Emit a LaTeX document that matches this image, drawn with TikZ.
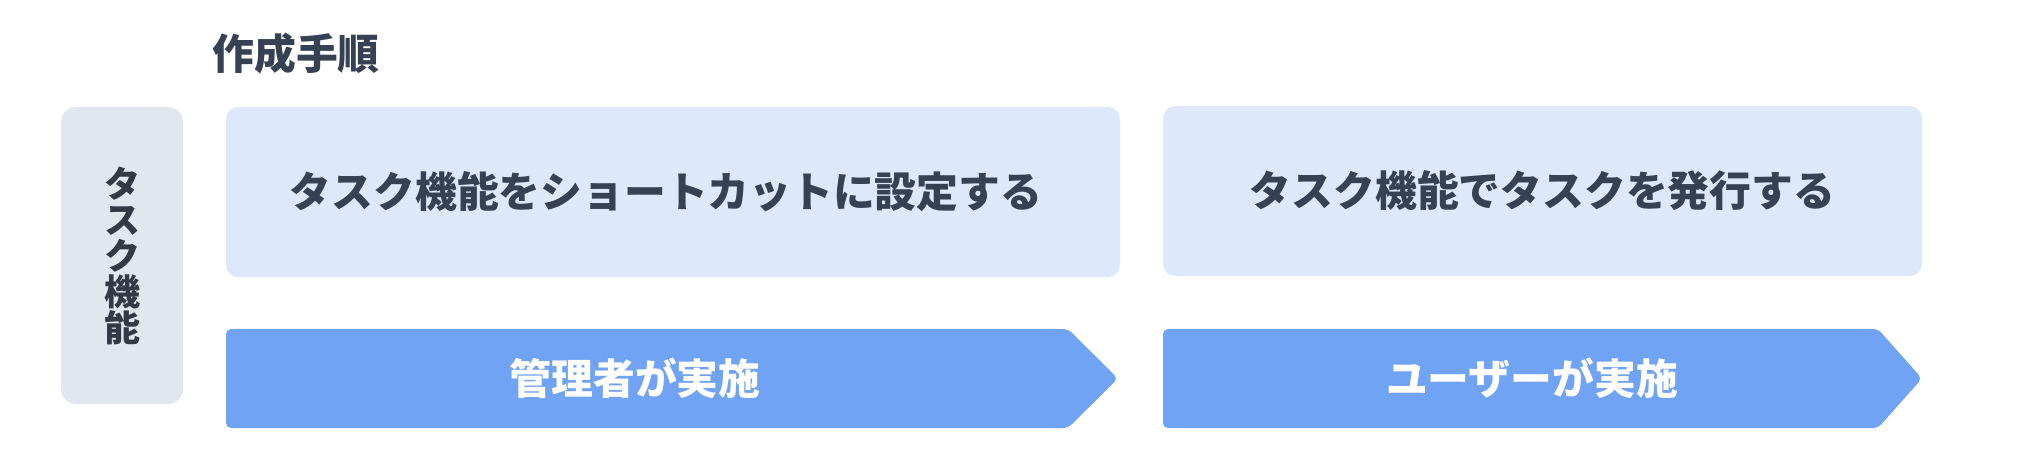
\documentclass[tikz,border=0pt]{standalone}
\usepackage{fontspec}
\setmainfont{Noto Sans CJK JP}
\usetikzlibrary{positioning}
\definecolor{flowtext}{HTML}{364153}
\definecolor{flowlabel}{HTML}{333A45}
\definecolor{flowgray}{HTML}{E2E7EF}
\definecolor{flowlight}{HTML}{DDE8FA}
\definecolor{flowblue}{HTML}{71A3F4}

\begin{document}
\begin{tikzpicture}[
  x=0.5pt, y=-0.5pt,
  font=\bfseries\fontsize{20.9pt}{24pt}\selectfont,
  lane/.style={fill=flowgray, rounded corners=7.5pt,
    minimum width=61pt, minimum height=148.5pt, inner sep=0pt,
    align=center, text=flowlabel,
    font=\bfseries\fontsize{18pt}{18pt}\selectfont},
  task/.style={fill=flowlight, rounded corners=6pt,
    minimum height=85pt, inner sep=0pt, text=flowtext},
  phase/.style={fill=flowblue, rounded corners=2.5pt},
  actor/.style={text=white, inner sep=0pt},
  heading/.style={text=flowtext, inner sep=0pt}
]
\useasboundingbox (0,0) rectangle (2020,462);

\node[heading] (steps) at (296,54) {作成手順};

\node[lane] (lane) at (122,255.5) {タ\\ス\\ク\\機\\能};

\node[task, minimum width=447pt] (shortcut) at (673,192)
  {\hspace*{-7pt}タスク機能をショートカットに設定する};
\node[task, minimum width=379.5pt] (issue) at (1542.5,191)
  {タスク機能でタスクを発行する};

% phase arrows
\fill[phase] (226,329) -- (1068,329) -- (1118,378.5) -- (1068,428)
  -- (226,428) -- cycle;
\fill[phase] (1163,329) -- (1878,329) -- (1922,378.5) -- (1878,428)
  -- (1163,428) -- cycle;

\node[actor] (admin) at (635,378.5) {管理者が実施};
\node[actor] (user) at (1532,378.5) {ユーザーが実施};
\end{tikzpicture}
\end{document}
